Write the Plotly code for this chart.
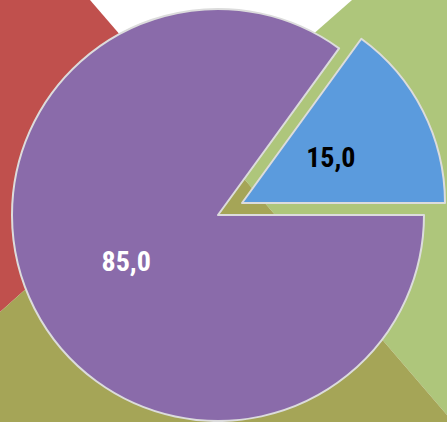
import plotly.graph_objects as go

# ---- data ----
categories = ["Categoría A", "Categoría B"]
values = [15.0, 85.0]
slice_colors = ["#5B9BDD", "#8A6BAA"]
text_colors = ["black", "white"]

W, H = 447, 422

def px_dom(x0, x1, y0, y1):
    return dict(x=[x0 / W, x1 / W], y=[1 - y1 / H, 1 - y0 / H])

def P(x, y):
    return f"{x / W:.5f},{1 - y / H:.5f}"

TRANSP = "rgba(0,0,0,0)"
fmt = "%{value:.1f}"
FONT = "Roboto Condensed, Liberation Sans Narrow, sans-serif"
common = dict(labels=categories, values=values, sort=False,
              direction="counterclockwise", rotation=36,
              textposition="inside", insidetextorientation="horizontal",
              textfont=dict(color=text_colors, size=28, family=FONT, weight="bold"),
              hoverinfo="skip", showlegend=False)

fig = go.Figure()

# main (unpulled) slice
fig.add_trace(go.Pie(
    marker=dict(colors=[TRANSP, slice_colors[1]],
                line=dict(color=[TRANSP, "#dcdcdc"], width=2)),
    texttemplate=["", fmt],
    domain=px_dom(12, 424, 9, 421), **common,
))

# exploded slice
fig.add_trace(go.Pie(
    marker=dict(colors=[slice_colors[0], TRANSP],
                line=dict(color=["#dcdcdc", TRANSP], width=2)),
    texttemplate=["", ""],
    domain=px_dom(37, 447, 0, 406), **common,
))

# label layer for the exploded slice (same centre, places the text mid-slice)
fig.add_trace(go.Pie(
    marker=dict(colors=[TRANSP, TRANSP], line=dict(width=0)),
    texttemplate=[fmt, ""],
    domain=px_dom(97, 387, 58, 348), **common,
))

shapes = [
    dict(type="path", xref="paper", yref="paper", layer="below", line=dict(width=0),
         fillcolor="#C0504D",
         path=f"M {P(0,0)} L {P(90,0)} L {P(203,131)} L {P(0,312)} Z"),
    dict(type="path", xref="paper", yref="paper", layer="below", line=dict(width=0),
         fillcolor="#AEC67B",
         path=f"M {P(352,0)} L {P(447,0)} L {P(447,415)} L {P(203,131)} Z"),
    dict(type="path", xref="paper", yref="paper", layer="below", line=dict(width=0),
         fillcolor="#A5A557",
         path=f"M {P(0,312)} L {P(203,131)} L {P(447,415)} L {P(447,422)} L {P(0,422)} Z"),
]

fig.update_layout(
    width=W, height=H, margin=dict(l=0, r=0, t=0, b=0),
    paper_bgcolor="white", plot_bgcolor="white",
    separators=", ",
    shapes=shapes,
)

fig.write_html("out.html", config={"displayModeBar": False},
               post_script="document.body.style.margin='0';")
